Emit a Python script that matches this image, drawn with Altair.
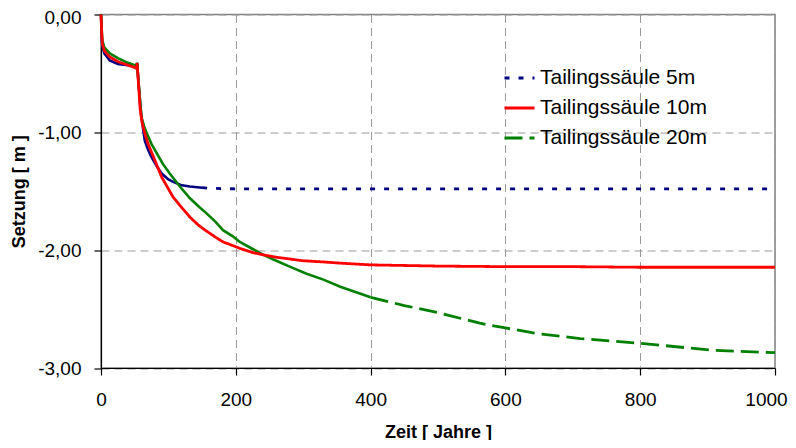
import altair as alt
import pandas as pd

series_names = ["Tailingssäule 5m", "Tailingssäule 10m", "Tailingssäule 20m"]
series_colors = ["#000080", "#FF0000", "#008000"]
series_dash = [[5, 9], [1, 0], [18, 7]]

blue_x = [0, 1, 2, 5, 13, 25, 40, 50, 53, 53.5, 56, 58, 60, 65, 70, 75, 83, 90, 100, 107, 120, 132, 150, 162, 200, 400, 600, 800, 1000]
blue_y = [0, -0.18, -0.27, -0.33, -0.39, -0.42, -0.43, -0.44, -0.45, -0.41, -0.60, -0.75, -0.87, -1.07, -1.15, -1.21, -1.29, -1.35, -1.40, -1.42, -1.45, -1.46, -1.47, -1.475, -1.48, -1.48, -1.48, -1.48, -1.48]

red_x = [0, 1, 2, 5, 13, 25, 40, 50, 53, 53.5, 56, 58, 61, 65, 70, 78, 90, 107, 120, 132, 145, 157, 170, 181, 195, 206, 225, 241, 260, 280, 300, 330, 355, 400, 450, 500, 600, 700, 800, 1000]
red_y = [0, -0.15, -0.25, -0.31, -0.36, -0.40, -0.43, -0.45, -0.46, -0.41, -0.62, -0.80, -0.92, -1.01, -1.10, -1.21, -1.38, -1.55, -1.64, -1.72, -1.79, -1.84, -1.89, -1.93, -1.96, -1.985, -2.02, -2.04, -2.06, -2.075, -2.09, -2.10, -2.11, -2.125, -2.13, -2.135, -2.14, -2.14, -2.145, -2.145]

green_x = [0, 1, 2, 5, 13, 25, 40, 50, 53, 53.5, 56, 58, 60, 64, 68, 75, 83, 92, 102, 117, 132, 145, 157, 170, 181, 195, 206, 225, 241, 260, 280, 305, 330, 355, 400, 450, 500, 562, 600, 650, 711, 800, 908, 1000]
green_y = [0, -0.12, -0.22, -0.28, -0.33, -0.37, -0.41, -0.43, -0.44, -0.41, -0.60, -0.73, -0.87, -0.95, -1.01, -1.10, -1.18, -1.27, -1.35, -1.46, -1.56, -1.63, -1.69, -1.76, -1.83, -1.88, -1.93, -1.99, -2.04, -2.09, -2.14, -2.20, -2.25, -2.31, -2.40, -2.47, -2.53, -2.62, -2.66, -2.71, -2.75, -2.79, -2.85, -2.87]

# year from which the sparse (dashed) rendering starts, per series
dash_start = [150, 0, 400]

x_ticks = [0, 200, 400, 600, 800, 1000]
y_ticks = [0, -1, -2, -3]

solid_rows, dashed_rows = [], []
for name, xs, ys, ds in zip(series_names, [blue_x, red_x, green_x], [blue_y, red_y, green_y], dash_start):
    for i, (xv, yv) in enumerate(zip(xs, ys)):
        row = {"Zeit": xv, "Setzung": yv, "Serie": name, "o": i}
        if ds > 0 and xv <= ds:
            solid_rows.append(row)
        if xv >= ds:
            dashed_rows.append(row)

solid_df = pd.DataFrame(solid_rows)
dashed_df = pd.DataFrame(dashed_rows)

FONT = "Liberation Sans"

x_enc = alt.X("Zeit:Q", scale=alt.Scale(domain=[0, 1000], nice=False),
              axis=alt.Axis(values=x_ticks, title="Zeit [ Jahre ]", labelFontSize=19,
                            labelPadding=15, tickSize=7, titleFontSize=18, titleFontWeight="bold",
                            titleY=64, titleBaseline="middle", format="d", labelFlush=False,
                            labelOffset=alt.condition("datum.value == 1000", alt.value(-9), alt.value(0))))
y_enc = alt.Y("Setzung:Q", scale=alt.Scale(domain=[-3, 0], nice=False),
              axis=alt.Axis(values=y_ticks, title="Setzung [ m ]", labelFontSize=19,
                            labelPadding=13, tickSize=7, titleFontSize=18, titleFontWeight="bold",
                            titleX=-82, titleBaseline="middle", labelFlush=False,
                            labelOffset=alt.condition("datum.value == 0", alt.value(3), alt.value(0)),
                            labelExpr="replace(replace(format(datum.value, '.2f'), '.', ','), '\u2212', '-')"))

color_scale = alt.Scale(domain=series_names, range=series_colors)

solid = alt.Chart(solid_df).mark_line(strokeWidth=2.6, strokeCap="butt").encode(
    x=x_enc, y=y_enc, order="o:Q",
    color=alt.Color("Serie:N", scale=color_scale, title=None),
)

dashed = alt.Chart(dashed_df).mark_line(strokeWidth=2.8, strokeCap="butt").encode(
    x=x_enc, y=y_enc, order="o:Q",
    color=alt.Color("Serie:N", scale=color_scale, title=None,
                    legend=alt.Legend(orient="none", legendX=402, legendY=47, symbolType="stroke",
                                      symbolSize=900, symbolStrokeWidth=2.8, labelFontSize=21,
                                      labelOffset=4, rowPadding=3, padding=0, labelFont=FONT,
                                      labelLimit=400)),
    strokeDash=alt.StrokeDash("Serie:N", scale=alt.Scale(domain=series_names, range=series_dash), title=None),
)

chart = alt.layer(solid, dashed).properties(
    width=674, height=353.5,
    autosize=alt.AutoSizeParams(type="none"),
    padding={"left": 93, "top": 6.5, "right": 13, "bottom": 72},
).configure_view(stroke="#808080", strokeWidth=1.5).configure_axis(
    labelFont=FONT, titleFont=FONT, labelColor="#000000", titleColor="#000000",
    domainColor="#000000", domainWidth=1.2, tickColor="#000000", tickWidth=1.2,
    gridColor="#9a9a9a", gridDash=[8, 5], gridWidth=1,
).configure_legend(labelFont=FONT, labelColor="#000000")

chart.save("out.html", embed_options={"renderer": "svg", "actions": False})
